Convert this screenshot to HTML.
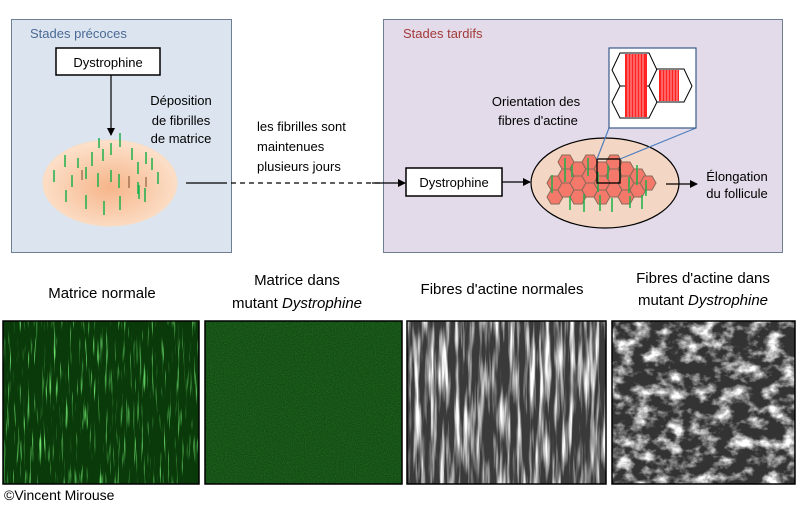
<html><head><style>
body{margin:0;width:800px;height:510px;background:#fff;overflow:hidden;font-family:"Liberation Sans",sans-serif}
</style></head><body>
<svg width="800" height="510" viewBox="0 0 800 510" xmlns="http://www.w3.org/2000/svg" font-family="Liberation Sans, sans-serif">
<defs>
<radialGradient id="eg" cx="0.5" cy="0.55" r="0.6"><stop offset="0" stop-color="#f6b58a"/><stop offset="1" stop-color="#fde6d2"/></radialGradient>
<marker id="ar" markerWidth="8" markerHeight="8" refX="7" refY="4" orient="auto" markerUnits="userSpaceOnUse"><path d="M0,0 L8,4 L0,8z" fill="#000"/></marker>
<filter id="gn" x="0" y="0" width="1" height="1"><feTurbulence type="fractalNoise" baseFrequency="0.5 0.03" numOctaves="2" seed="3"/><feColorMatrix values="0 0 0 0 0.2  0 0 0 0 0.95  0 0 0 0 0.2  0 0 0 4 -2.4"/></filter>
<filter id="gn2" x="0" y="0" width="1" height="1"><feTurbulence type="fractalNoise" baseFrequency="0.9" numOctaves="1" seed="5"/><feColorMatrix values="0 0 0 0 0  0 0 0 0 0  0 0 0 0 0  0 0 0 0.6 -0.1"/></filter>
<filter id="gy" x="0" y="0" width="1" height="1"><feTurbulence type="fractalNoise" baseFrequency="0.2 0.015" numOctaves="3" seed="7"/><feColorMatrix values="0 0 0 0 1  0 0 0 0 1  0 0 0 0 1  0 0 0 3 -1.3"/></filter>
<filter id="gy2" x="0" y="0" width="1" height="1"><feTurbulence type="fractalNoise" baseFrequency="0.06 0.08" numOctaves="4" seed="11"/><feColorMatrix values="0 0 0 0 1  0 0 0 0 1  0 0 0 0 1  0 0 0 3 -1.3"/></filter>
<polygon id="hx" points="-8,0 -4,-7 4,-7 8,0 4,7 -4,7" fill="#f4796a" stroke="#8a6a5a" stroke-width="1"/>
</defs>
<!-- left box -->
<rect x="11.5" y="19.5" width="220" height="233" fill="#dce5ef" stroke="#6e7f92"/>
<text x="30" y="38" font-size="13" fill="#4a6a95">Stades précoces</text>
<rect x="56" y="48" width="104" height="27" fill="#fff" stroke="#000" stroke-width="1.5"/>
<text x="108" y="67" font-size="13" text-anchor="middle">Dystrophine</text>
<line x1="111" y1="75" x2="111" y2="135" stroke="#000" stroke-width="1.2" marker-end="url(#ar)"/>
<text font-size="13" text-anchor="middle"><tspan x="181" y="105">Déposition</tspan><tspan x="181" y="125">de fibrilles</tspan><tspan x="181" y="143">de matrice</tspan></text>
<ellipse cx="110" cy="183" rx="67" ry="43" fill="url(#eg)" stroke="#f7dcc4"/>
<g stroke="#1eb04a" stroke-width="1.5">
<path d="M65,155v12M78,158v10M86,167v12M54,170v12M72,175v12M92,152v14M99,138v10M103,149v12M111,143v12M120,133v14M132,148v12M138,162v12M146,152v12M152,158v12M158,172v12M138,182v12M119,174v14M111,170v12M98,173v14M66,190v12M86,195v14M104,201v14M120,196v14M139,185v14M145,188v14"/>
</g>
<g stroke="#7a4a2a" stroke-width="1"><path d="M82,170v10M129,176v12M146,177v10"/></g>
<!-- connector -->
<line x1="186" y1="183" x2="227" y2="183" stroke="#000" stroke-width="1.2"/>
<line x1="231" y1="183" x2="380" y2="183" stroke="#000" stroke-width="1.2" stroke-dasharray="5,4"/>
<text font-size="13"><tspan x="257" y="131">les fibrilles sont</tspan><tspan x="257" y="151">maintenues</tspan><tspan x="257" y="171">plusieurs jours</tspan></text>
<!-- right box -->
<rect x="383.5" y="19.5" width="399" height="233" fill="#e3dbe9" stroke="#6e7f92"/>
<text x="403" y="38" font-size="13" fill="#a33a3a">Stades tardifs</text>
<line x1="372" y1="183" x2="405" y2="183" stroke="#000" stroke-width="1.2" marker-end="url(#ar)"/>
<rect x="406" y="168" width="96" height="28" fill="#fff" stroke="#000" stroke-width="1.5"/>
<text x="454" y="187" font-size="13" text-anchor="middle">Dystrophine</text>
<line x1="502" y1="182" x2="530" y2="182" stroke="#000" stroke-width="1.2" marker-end="url(#ar)"/>
<ellipse cx="605" cy="183" rx="74" ry="45" fill="#f3d6c4" stroke="#000" stroke-width="1.2"/>
<g>
<use href="#hx" x="555" y="183"/><use href="#hx" x="555" y="197"/>
<use href="#hx" x="566" y="162"/><use href="#hx" x="566" y="176"/><use href="#hx" x="566" y="190"/>
<use href="#hx" x="578" y="169"/><use href="#hx" x="578" y="183"/><use href="#hx" x="578" y="197"/>
<use href="#hx" x="590" y="162"/><use href="#hx" x="590" y="176"/><use href="#hx" x="590" y="190"/>
<use href="#hx" x="602" y="169"/><use href="#hx" x="602" y="183"/><use href="#hx" x="602" y="197"/>
<use href="#hx" x="614" y="162"/><use href="#hx" x="614" y="176"/><use href="#hx" x="614" y="190"/>
<use href="#hx" x="626" y="169"/><use href="#hx" x="626" y="183"/><use href="#hx" x="626" y="197"/>
<use href="#hx" x="638" y="176"/><use href="#hx" x="638" y="190"/>
<use href="#hx" x="648" y="183"/>
</g>
<g stroke="#1eb04a" stroke-width="1.5"><path d="M552,175v18M565,158v24M572,165v12M588,158v18M598,172v20M608,165v14M620,168v12M629,177v16M637,165v20M646,180v16M570,196v14M584,194v18M600,195v16M612,198v14M630,196v12M642,195v14"/></g>
<rect x="597" y="159" width="23" height="24" fill="none" stroke="#000" stroke-width="1.3"/>
<line x1="597" y1="159" x2="609" y2="128" stroke="#4f7fc0" stroke-width="1.2"/>
<line x1="620" y1="159" x2="696" y2="128" stroke="#4f7fc0" stroke-width="1.2"/>
<rect x="609" y="48" width="87" height="80" fill="#fff" stroke="#3a5a8a" stroke-width="1.2"/>
<g stroke="#000" stroke-width="1" fill="#fff">
<polygon points="612,70 620,53 649,53 657,70 649,86 620,86"/>
<polygon points="612,102 620,86 649,86 657,102 649,118 620,118"/>
<polygon points="649,86 657,69 684,69 692,86 684,102 657,102"/>
</g>
<g fill="#f22"><rect x="625" y="54" width="22" height="63"/><rect x="659" y="70" width="20" height="31"/></g>
<g stroke="#fff" stroke-width="0.6"><path d="M628,54v63M631,54v63M634,54v63M637,54v63M640,54v63M643,54v63M662,70v31M665,70v31M668,70v31M671,70v31M674,70v31M677,70v31"/></g>
<text font-size="13" text-anchor="middle"><tspan x="536" y="106">Orientation des</tspan><tspan x="538" y="125">fibres d'actine</tspan></text>
<line x1="666" y1="184" x2="697" y2="184" stroke="#000" stroke-width="1.2" marker-end="url(#ar)"/>
<text font-size="13" text-anchor="middle"><tspan x="737" y="181">Élongation</tspan><tspan x="737" y="198">du follicule</tspan></text>
<!-- captions -->
<g font-size="15" text-anchor="middle">
<text x="102" y="298">Matrice normale</text>
<text x="297" y="285">Matrice dans</text>
<text x="297" y="308">mutant <tspan font-style="italic">Dystrophine</tspan></text>
<text x="502" y="294">Fibres d'actine normales</text>
<text x="703" y="283">Fibres d'actine dans</text>
<text x="703" y="305">mutant <tspan font-style="italic">Dystrophine</tspan></text>
</g>
<!-- panels -->
<rect x="3" y="321" width="196" height="163" fill="#0a3a0a"/>
<rect x="3" y="321" width="196" height="163" filter="url(#gn)"/>
<rect x="3" y="321" width="196" height="163" fill="none" stroke="#000" stroke-width="1.5"/>
<rect x="205" y="321" width="197" height="163" fill="#1d6a1d"/>
<rect x="205" y="321" width="197" height="163" filter="url(#gn2)"/>
<rect x="205" y="321" width="197" height="163" fill="none" stroke="#000" stroke-width="1.5"/>
<rect x="407" y="321" width="199" height="163" fill="#3a3a3a"/>
<rect x="407" y="321" width="199" height="163" filter="url(#gy)"/>
<rect x="407" y="321" width="199" height="163" fill="none" stroke="#000" stroke-width="1.5"/>
<rect x="612" y="321" width="183" height="163" fill="#333"/>
<rect x="612" y="321" width="183" height="163" filter="url(#gy2)"/>
<rect x="612" y="321" width="183" height="163" fill="none" stroke="#000" stroke-width="1.5"/>
<text x="4" y="500" font-size="14">©Vincent Mirouse</text>
</svg>
</body></html>
